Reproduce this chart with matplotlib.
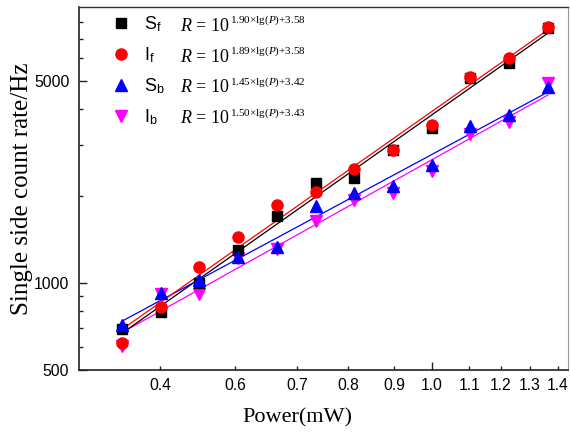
import numpy as np
import matplotlib
matplotlib.use("Agg")
import matplotlib.pyplot as plt

plt.rcParams['font.family'] = ['Liberation Sans', 'DejaVu Sans']
plt.rcParams['mathtext.fontset'] = 'custom'
plt.rcParams['mathtext.rm'] = 'Liberation Serif'
plt.rcParams['mathtext.it'] = 'Liberation Serif:italic'
plt.rcParams['mathtext.sf'] = 'Liberation Sans'

# power (mW), 0.5 dB steps
power = [0.398, 0.447, 0.501, 0.562, 0.631, 0.708, 0.794, 0.891, 1.0, 1.122, 1.259, 1.413]

s_f = [695, 791, 996, 1298, 1704, 2220, 2311, 2880, 3421, 5109, 5747, 7627]
i_f = [621, 828, 1135, 1443, 1861, 2065, 2484, 2892, 3515, 5150, 5981, 7670]
s_b = [717, 922, 1020, 1230, 1332, 1846, 2049, 2167, 2564, 3485, 3798, 4765]
i_b = [607, 915, 919, 1217, 1308, 1637, 1937, 2049, 2430, 3262, 3592, 4909]

names = [r'$\mathsf{S}_\mathsf{f}$', r'$\mathsf{I}_\mathsf{f}$',
         r'$\mathsf{S}_\mathsf{b}$', r'$\mathsf{I}_\mathsf{b}$']
slopes = ['1.90', '1.89', '1.45', '1.50']
intercepts = ['3.58', '3.58', '3.42', '3.43']

# tick marks as placed in the original figure
xtick_at = [0.446, 0.557, 0.670, 0.780, 0.894, 1.118, 1.229, 1.340, 1.457]
xtick_lab = ['0.4', '0.6', '0.7', '0.8', '0.9', '1.1', '1.2', '1.3', '1.4']

fig = plt.figure(figsize=(5.7, 4.34), dpi=100)
ax = fig.add_axes([0.1386, 0.1475, 0.8579, 0.8364])
ax.set_xscale('log')
ax.set_yscale('log')

x = np.array(power)
series = [(s_f, 'black', 's', 7), (i_f, 'red', 'o', 8),
          (s_b, 'blue', '^', 8), (i_b, 'magenta', 'v', 8)]
zorders = [3, 5, 4, 2]
handles = []
for (y, c, m, ms), z in zip(series, zorders):
    y = np.array(y)
    k, b = np.polyfit(np.log10(x), np.log10(y), 1)
    ax.plot(x, 10 ** (k * np.log10(x) + b), color=c, lw=0.9, zorder=z)
    h, = ax.plot(x, y, ls='none', marker=m, ms=ms, color=c, mec=c, zorder=z + 5)
    handles.append(h)

ax.set_xlim(0.3502, 1.5004)
ax.set_ylim(500, 9000)

ax.set_xticks([1.0], labels=['1.0'])
ax.set_xticks(xtick_at, labels=xtick_lab, minor=True)
ax.set_yticks([500, 1000, 5000], labels=['500', '1000', '5000'])
ax.set_yticks([600, 700, 800, 900, 2000, 3000, 4000, 6000, 7000, 8000], minor=True)
ax.yaxis.set_minor_formatter(matplotlib.ticker.NullFormatter())

ax.tick_params(which='both', direction='in', labelsize=11.3, color='#222222', width=1.0)
ax.tick_params(which='major', length=6)
ax.tick_params(which='minor', length=3)
ax.tick_params(axis='x', which='both', pad=6)
ax.tick_params(axis='y', which='both', pad=7)

for s in ['left', 'bottom']:
    ax.spines[s].set_linewidth(1.2)
    ax.spines[s].set_color('#222222')
ax.spines['top'].set_linewidth(1.0)
ax.spines['top'].set_color('#333333')
ax.spines['right'].set_linewidth(0.8)
ax.spines['right'].set_color('#999999')

ax.set_xlabel('Power(mW)', family='Liberation Serif', fontsize=16)
ax.set_ylabel('Single side count rate/Hz', family='Liberation Serif', fontsize=18)
ax.xaxis.set_label_coords(0.446, -0.105)
ax.yaxis.set_label_coords(-0.094, 0.5)

leg = ax.legend(handles=handles, labels=names, loc='upper left', bbox_to_anchor=(0.053, 1.0),
                frameon=False, fontsize=13, handlelength=1.0, handletextpad=0.75,
                labelspacing=0.62, borderaxespad=0.0)

# fit formulas next to each legend entry
for t, a, b in zip(leg.get_texts(), slopes, intercepts):
    base = ax.annotate(r'$R$ = 10', xy=(0, 0.5), xycoords=t, xytext=(26, -1.5),
                       textcoords='offset points', ha='left', va='center',
                       family='Liberation Serif', fontsize=13, zorder=20)
    ax.annotate(a + r'×lg($P$)+' + b, xy=(1, 1), xycoords=base, xytext=(0.3, 3),
                textcoords='offset points', ha='left', va='top',
                family='Liberation Serif', fontsize=8, zorder=21)

fig.savefig('out.png', dpi=100)
